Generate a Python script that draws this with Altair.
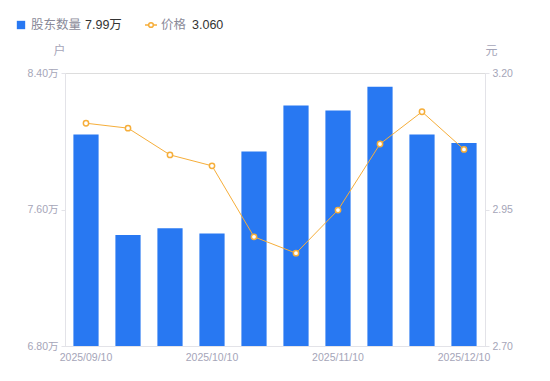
import altair as alt
import pandas as pd

dates = ["2025/09/10", "2025/09/19", "2025/09/30", "2025/10/10", "2025/10/20",
         "2025/10/31", "2025/11/10", "2025/11/20", "2025/11/28", "2025/12/10"]
holders = [8.04, 7.45, 7.49, 7.46, 7.94, 8.21, 8.18, 8.32, 8.04, 7.99]  # 万户
prices = [3.108, 3.099, 3.050, 3.030, 2.900, 2.870, 2.949, 3.070, 3.129, 3.060]
shown_dates = ["2025/09/10", "2025/10/10", "2025/11/10", "2025/12/10"]
left_ticks = [6.8, 7.6, 8.4]
right_ticks = [2.70, 2.95, 3.20]

df = pd.DataFrame({"date": dates, "holders": holders, "price": prices})

FONT = "Liberation Sans, Noto Sans CJK SC"
BLUE = "#2878F2"
ORANGE = "#F6AE3A"
GRAY = "#A5A5B8"
LINE = "#E3E3E8"

label_expr = "indexof(" + str(shown_dates) + ", datum.value) >= 0 ? datum.value : ''"

x = alt.X("date:N", sort=dates,
          scale=alt.Scale(paddingInner=0.4, paddingOuter=0.2),
          axis=alt.Axis(title=None, labelAngle=0, labelExpr=label_expr, ticks=False,
                        domainColor=LINE, labelColor=GRAY, labelFontSize=10.5,
                        labelFont=FONT, labelPadding=6, grid=False))

bars = alt.Chart(df).mark_bar(color=BLUE, clip=True).encode(
    x=x,
    y=alt.Y("holders:Q", scale=alt.Scale(domain=[6.8, 8.4], nice=False, zero=False),
            axis=alt.Axis(values=left_ticks, labelExpr="format(datum.value, '.2f') + '万'",
                          title="户", titleAngle=0, titleX=-6, titleY=-16,
                          titleColor=GRAY, titleFontWeight="normal", titleFontSize=12,
                          titleFont=FONT, titleAlign="center",
                          grid=False, domainColor=LINE, tickColor=LINE, tickSize=4,
                          labelColor=GRAY, labelFontSize=10.5, labelFont=FONT,
                          labelPadding=3, orient="left")),
)

yr = alt.Y("price:Q", scale=alt.Scale(domain=[2.70, 3.20], nice=False, zero=False),
           axis=alt.Axis(values=right_ticks, format=".2f",
                         title="元", titleAngle=0, titleX=6, titleY=-16,
                         titleColor=GRAY, titleFontWeight="normal", titleFontSize=12,
                         titleFont=FONT, titleAlign="center",
                         grid=False, domainColor=LINE, tickColor=LINE, tickSize=4,
                         labelColor=GRAY, labelFontSize=10.5, labelFont=FONT,
                         labelPadding=3, orient="right"))

line = alt.Chart(df).mark_line(color=ORANGE, strokeWidth=1).encode(x=x, y=yr)
pts = alt.Chart(df).mark_point(filled=True, fill="white", stroke=ORANGE, strokeWidth=1.5,
                               size=28, opacity=1).encode(x=x, y=yr)

price_layer = alt.layer(line, pts)

# legend
LY = -48
leg = pd.DataFrame({"k": [0]})
base = alt.Chart(leg)
sq = base.mark_square(color=BLUE, size=70, opacity=1).encode(x=alt.value(-44), y=alt.value(LY))
t1 = base.mark_text(text="股东数量", align="left", baseline="middle", fontSize=12.5,
                    color="#8A8A99", font=FONT).encode(x=alt.value(-34), y=alt.value(LY))
t2 = base.mark_text(text="7.99万", align="left", baseline="middle", fontSize=12.5,
                    color="#333333", font=FONT).encode(x=alt.value(20), y=alt.value(LY))
lr = base.mark_rule(color=ORANGE, strokeWidth=1.5).encode(
    x=alt.value(80), x2=alt.value(92), y=alt.value(LY))
lp = base.mark_point(filled=True, fill="white", stroke=ORANGE, strokeWidth=1.5, size=22,
                     opacity=1).encode(x=alt.value(86), y=alt.value(LY))
t3 = base.mark_text(text="价格", align="left", baseline="middle", fontSize=12.5,
                    color="#8A8A99", font=FONT).encode(x=alt.value(96), y=alt.value(LY))
t4 = base.mark_text(text="3.060", align="left", baseline="middle", fontSize=12.5,
                    color="#333333", font=FONT).encode(x=alt.value(127), y=alt.value(LY))

legend = alt.layer(sq, t1, t2, lr, lp, t3, t4)

chart = alt.layer(bars, price_layer, legend).resolve_scale(y="independent").properties(
    width=420, height=273,
    autosize=alt.AutoSizeParams(type="none"),
    padding={"left": 57, "top": 65, "right": 57, "bottom": 30},
).configure_view(stroke=None).configure(background="white")

chart.save("out.html", embed_options={"renderer": "svg", "actions": False})
